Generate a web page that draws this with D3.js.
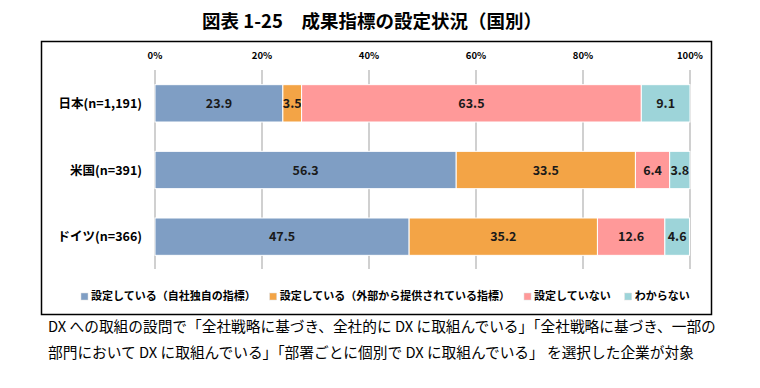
<!DOCTYPE html>
<html>
<head>
<meta charset="utf-8">
<script src="https://cdn.jsdelivr.net/npm/d3@7"></script>
<style>
  body { margin: 0; background: #fff; }
  svg { display: block; font-family: "Noto Sans CJK JP", sans-serif; }
</style>
</head>
<body>
<svg id="chart" width="760" height="388"></svg>
<script>
const countries = ["日本(n=1,191)", "米国(n=391)", "ドイツ(n=366)"];
const seriesNames = ["設定している（自社独自の指標）", "設定している（外部から提供されている指標）", "設定していない", "わからない"];
const ownIndex = [23.9, 56.3, 47.5];
const externalIndex = [3.5, 33.5, 35.2];
const notSet = [63.5, 6.4, 12.6];
const unknown = [9.1, 3.8, 4.6];
const ticks = [0, 20, 40, 60, 80, 100];
const colors = ["#7f9ec4", "#f3a446", "#ff9999", "#9dd4d9"];

const svg = d3.select("#chart");

// title
svg.append("text")
  .attr("x", 372).attr("y", 28)
  .attr("text-anchor", "middle")
  .style("font-size", "18.5px").style("font-weight", "bold")
  .text("図表 1-25　成果指標の設定状況（国別）");

// frame
svg.append("rect")
  .attr("x", 41.5).attr("y", 41.5).attr("width", 670).attr("height", 273)
  .attr("fill", "none").attr("stroke", "#000").attr("stroke-width", 1.5);

const x = d3.scaleLinear().domain([0, 100]).range([155, 690]);
const y = d3.scaleBand().domain(countries).range([70, 270]).paddingInner(0.44).paddingOuter(0.22);

const rows = countries.map((c, i) => ({ country: c, values: [ownIndex[i], externalIndex[i], notSet[i], unknown[i]] }));
const stack = d3.stack().keys([0, 1, 2, 3]).value((d, k) => d.values[k]);
const layers = stack(rows);

// grid
svg.append("g").selectAll("line")
  .data(ticks)
  .join("line")
  .attr("x1", d => x(d)).attr("x2", d => x(d))
  .attr("y1", 70).attr("y2", 269)
  .attr("stroke", "#c0c0c0").attr("stroke-width", 1.5);

svg.append("g").selectAll("text")
  .data(ticks)
  .join("text")
  .attr("x", d => x(d)).attr("y", 59)
  .attr("text-anchor", "middle")
  .style("font-size", "9.5px").style("font-weight", "bold")
  .text(d => d + "%");

// bars
const layer = svg.append("g").selectAll("g")
  .data(layers)
  .join("g")
  .attr("fill", (d, i) => colors[i]);

layer.selectAll("rect")
  .data(d => d)
  .join("rect")
  .attr("x", d => x(d[0]))
  .attr("y", d => y(d.data.country))
  .attr("width", d => x(d[1]) - x(d[0]))
  .attr("height", y.bandwidth())
  .attr("stroke", "#fff").attr("stroke-width", 1);

layer.selectAll("text")
  .data(d => d.map(s => ({ s, v: s[1] - s[0] })))
  .join("text")
  .attr("x", d => (x(d.s[0]) + x(d.s[1])) / 2)
  .attr("y", d => y(d.s.data.country) + y.bandwidth() / 2 + 4.5)
  .attr("text-anchor", "middle")
  .attr("fill", "#1a1a1a")
  .style("font-size", "12.5px").style("font-weight", "bold")
  .text(d => d.v.toFixed(1));

// category labels
svg.append("g").selectAll("text")
  .data(countries)
  .join("text")
  .attr("x", 142)
  .attr("y", d => y(d) + y.bandwidth() / 2 + 4.5)
  .attr("text-anchor", "end")
  .style("font-size", "12.5px").style("font-weight", "bold")
  .text(d => d);

// legend
const legend = svg.append("g");
let lx = 81;
seriesNames.forEach((name, i) => {
  const g = legend.append("g").attr("transform", `translate(${lx},0)`);
  g.append("rect").attr("x", 0).attr("y", 293).attr("width", 7).attr("height", 7)
    .attr("fill", colors[i]).attr("stroke", "#ddd").attr("stroke-width", 0.5);
  const t = g.append("text").attr("x", 10).attr("y", 300)
    .style("font-size", "11px").style("font-weight", "bold")
    .text(name);
  lx += 10 + t.node().getComputedTextLength() + 14;
});

// footnote
const notes = [
  "DX への取組の設問で「全社戦略に基づき、全社的に DX に取組んでいる」「全社戦略に基づき、一部の",
  "部門において DX に取組んでいる」「部署ごとに個別で DX に取組んでいる」 を選択した企業が対象"
];
svg.append("g").selectAll("text")
  .data(notes)
  .join("text")
  .attr("x", 48)
  .attr("y", (d, i) => 332 + i * 26)
  .style("font-size", "14.7px")
  .attr("fill", "#000")
  .text(d => d);
</script>
</body>
</html>
